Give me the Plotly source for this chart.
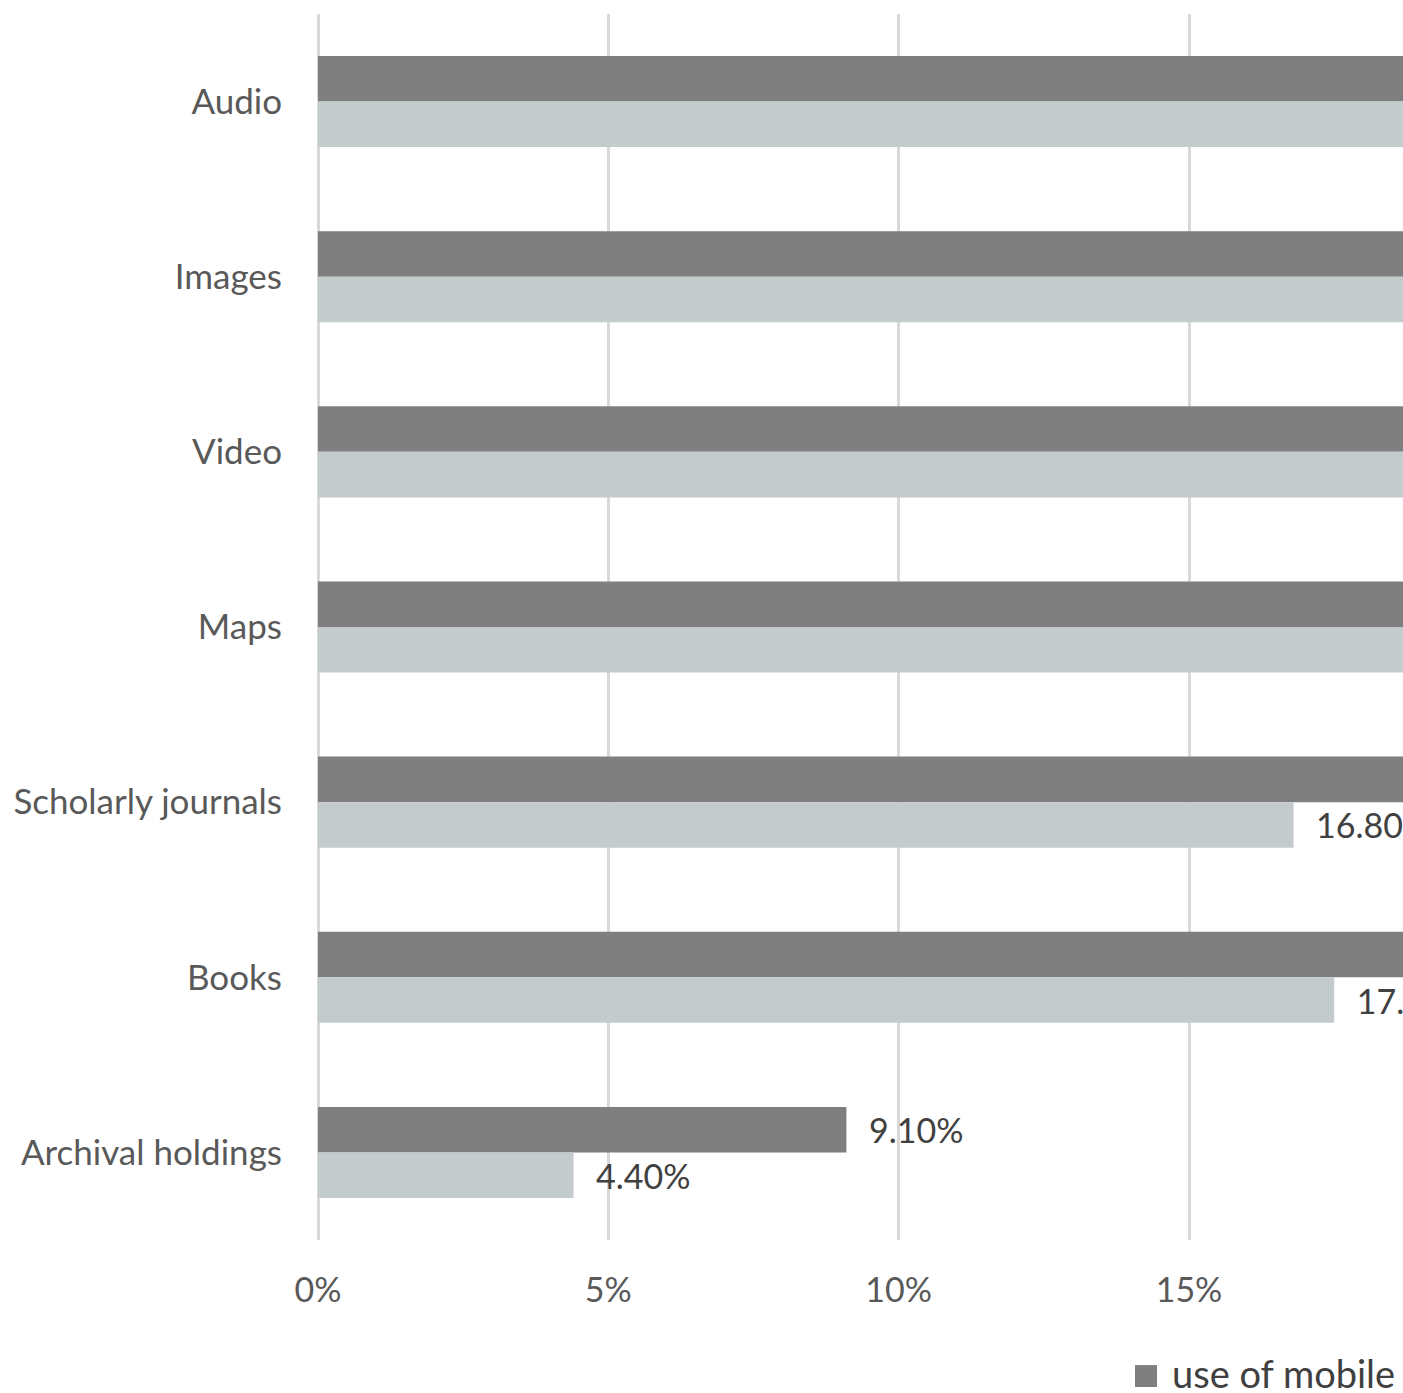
import plotly.graph_objects as go

categories = ["Audio", "Images", "Video", "Maps", "Scholarly journals", "Books", "Archival holdings"]
# values beyond ~18.7% are cut off in the reference image; those are estimates
mobile_use = [40.9, 39.5, 38.6, 31.8, 29.5, 27.3, 9.1]
desktop_use = [27.3, 25.0, 22.7, 20.5, 16.8, 17.5, 4.4]
series_names = ["use of mobile devices", "use of desktop computers"]
x_ticks = [0, 5, 10, 15, 20]
x_tick_labels = ["0%", "5%", "10%", "15%", "20%"]

FONT = "Lato, Open Sans, sans-serif"
DARK = "#7f7f7f"
LIGHT = "#c3cbcc"
PAD = "\u00a0\u00a0\u200a"

fig = go.Figure()
fig.add_trace(go.Bar(
    y=categories, x=mobile_use, orientation="h", name=series_names[0],
    marker=dict(color=DARK, line=dict(width=0)),
    texttemplate=PAD + "%{x:.2f}%", textposition="outside", constraintext="none",
    cliponaxis=True,
    textfont=dict(family=FONT, size=34, color="#404040"),
))
fig.add_trace(go.Bar(
    y=categories, x=desktop_use, orientation="h", name=series_names[1],
    marker=dict(color=LIGHT, line=dict(width=0)),
    texttemplate=PAD + "%{x:.2f}%", textposition="outside", constraintext="none",
    cliponaxis=True,
    textfont=dict(family=FONT, size=34, color="#404040"),
))

# legend (only the first entry is visible in the cropped reference)
fig.add_shape(type="rect", xref="paper", yref="paper",
              x0=0.753, x1=0.7733, y0=-0.1199, y1=-0.1020,
              fillcolor=DARK, line=dict(width=0))
fig.add_annotation(xref="paper", yref="paper", x=0.7853, y=-0.1085,
                   xanchor="left", yanchor="middle", showarrow=False,
                   text=series_names[0],
                   font=dict(family=FONT, size=38, color="#404040"))

fig.update_layout(
    width=1403, height=1393,
    margin=dict(l=318, r=0, t=14, b=153),
    paper_bgcolor="white", plot_bgcolor="white",
    barmode="group", bargap=0.48, bargroupgap=0,
    font=dict(family=FONT, color="#595959"),
    showlegend=False,
    xaxis=dict(range=[0, 18.685], tickvals=x_ticks, ticktext=x_tick_labels,
               showgrid=True, gridcolor="#d9d9d9", gridwidth=2.5,
               zeroline=True, zerolinecolor="#d9d9d9", zerolinewidth=2.5,
               showline=False, ticks="", ticklabelstandoff=27,
               tickfont=dict(family=FONT, size=34, color="#595959")),
    yaxis=dict(autorange="reversed", showgrid=False, showline=False, ticks="",
               ticklabelstandoff=35,
               tickfont=dict(family=FONT, size=35, color="#595959")),
)

fig.write_html("out.html",
               config={"displayModeBar": False},
               post_script="document.body.style.margin='0';"
                           "document.body.style.overflow='hidden';")
